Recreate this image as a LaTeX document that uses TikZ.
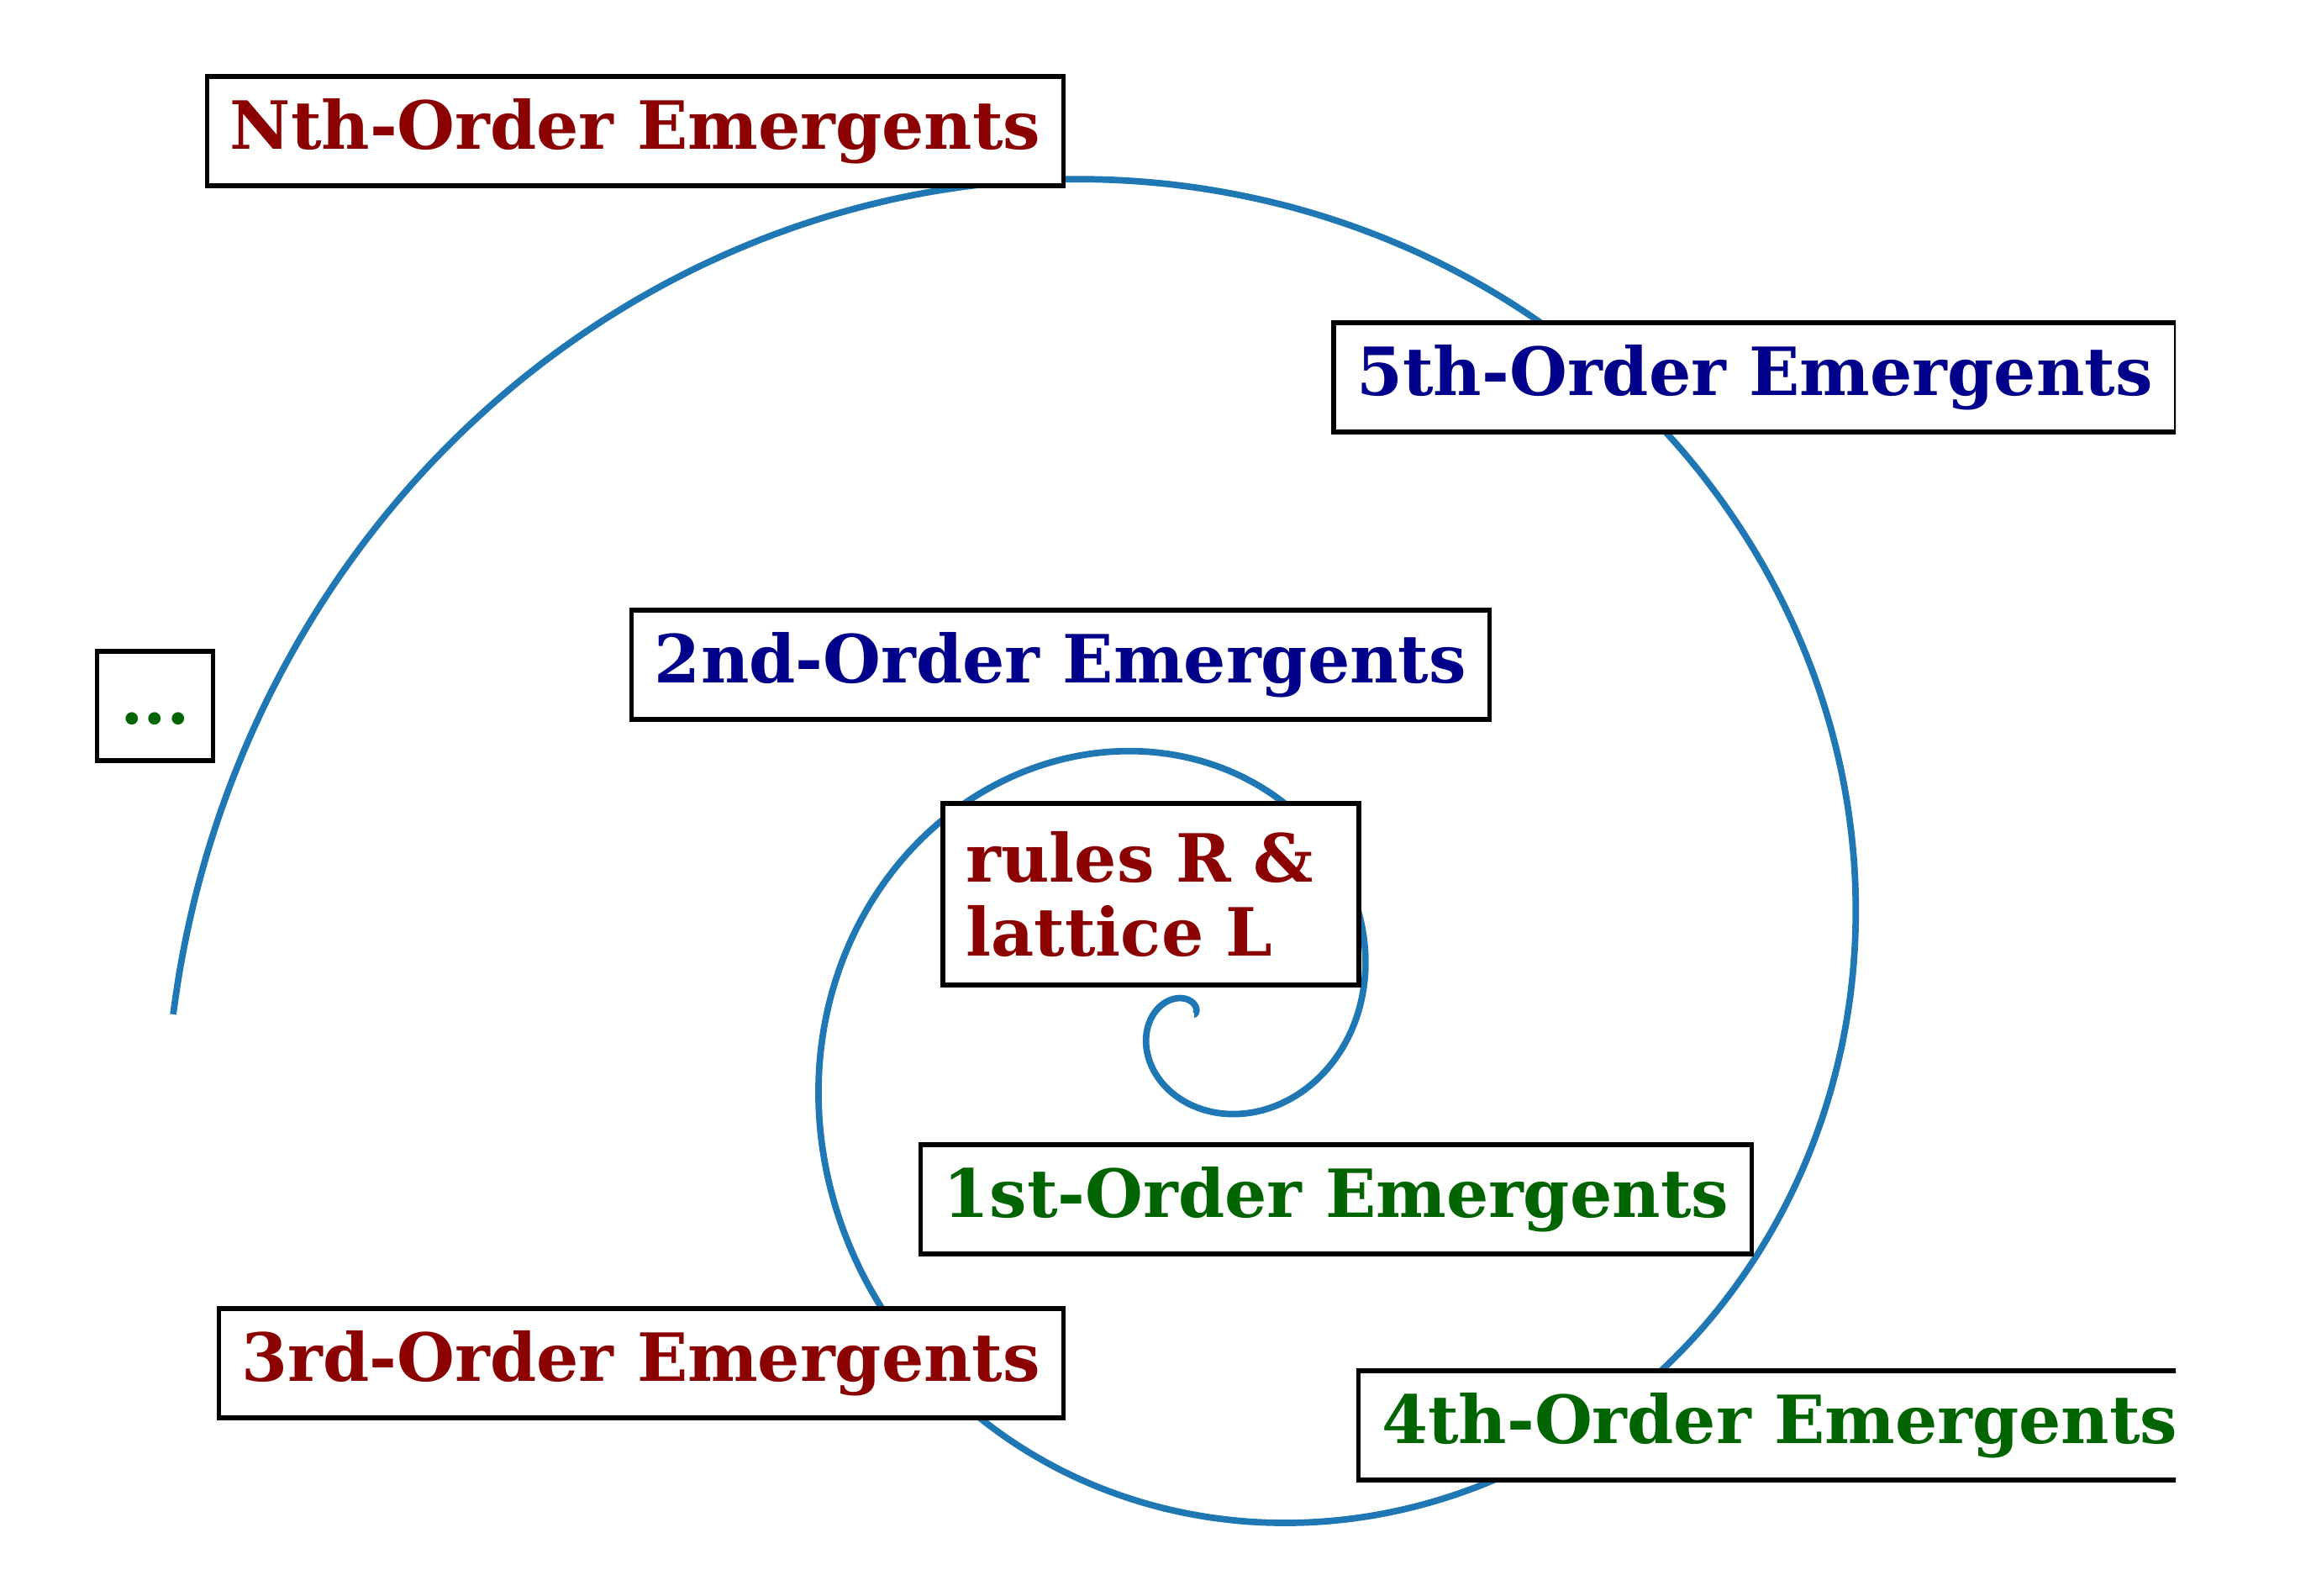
\documentclass[tikz,border=0pt]{standalone}
\usepackage{fontspec}
\setmainfont{DejaVu Serif}
\definecolor{spiralblue}{HTML}{1F77B4}
\definecolor{ordred}{rgb}{0.545,0,0}
\definecolor{ordblue}{rgb}{0,0,0.545}
\definecolor{ordgreen}{rgb}{0,0.392,0}
\begin{document}
\begin{tikzpicture}[
    ordbox/.style={
        draw, line width=1.5pt, fill=white,
        font=\fontsize{22.5}{25}\selectfont\bfseries,
        inner xsep=0.275cm, inner ysep=0.195cm,
        text height=0.67cm, text depth=0.24cm
    },
    spiral/.style={spiralblue, line width=2.2pt}
]
\useasboundingbox (0,0) rectangle (27.5,-18.99);
\begin{scope}
\clip (0,0) rectangle (25.89,-18.99);
% spiral first, the boxes sit on top of it
\draw[spiral] plot[domain=0:900, samples=400, smooth]
    ({14.21+0.486*(\x/180)^2*cos(\x)}, {-12.07+0.486*(\x/180)^2*sin(\x)});
\foreach \nm/\x/\y/\clr/\txt in {%
    nth/7.56/-1.56/ordred/{Nth-Order Emergents},
    fifth/20.88/-4.49/ordblue/{5th-Order Emergents},
    second/12.62/-7.91/ordblue/{2nd-Order Emergents},
    first/15.90/-14.27/ordgreen/{1st-Order Emergents},
    third/7.63/-16.22/ordred/{3rd-Order Emergents}%
} {
    \node[ordbox, text=\clr] (\nm) at (\x,\y) {\txt};
}
\node[ordbox, text=ordgreen, minimum width=1.37cm] (dots) at (1.845,-8.40) {...};
\node[ordbox, text=ordgreen, anchor=west] (fourth) at (16.14,-16.96)
    {4th-Order Emergents};
\node[ordbox, text=ordred, text height=, text depth=, align=left,
    text width=4.40cm, minimum height=2.16cm] (rules) at (13.695,-10.64)
    {rules R \&\\lattice L};
\end{scope}
\end{tikzpicture}
\end{document}
